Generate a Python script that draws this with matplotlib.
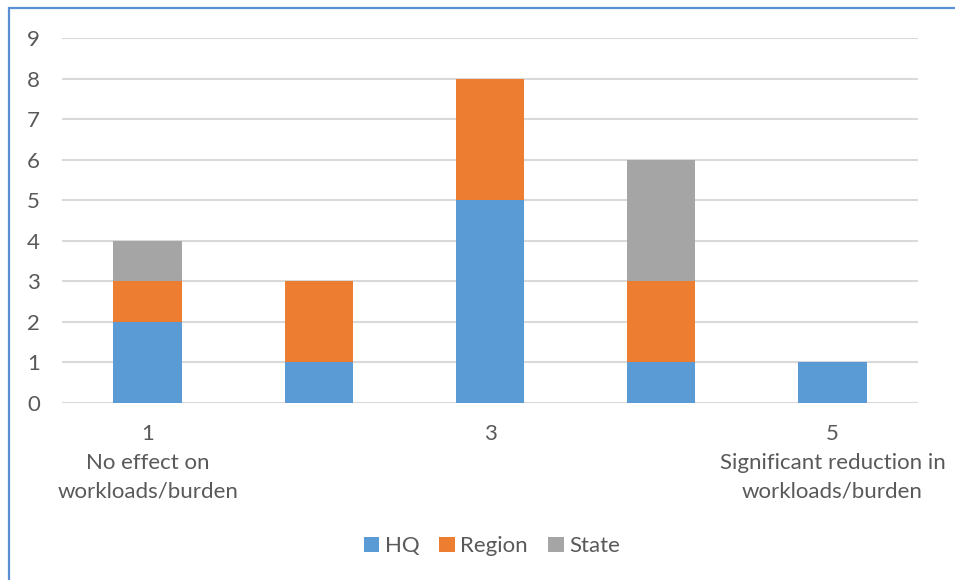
#!/usr/bin/env python3

import matplotlib
matplotlib.use('Agg')
import matplotlib.pyplot as plt
from matplotlib.patches import Rectangle
import numpy as np

# Survey responses by scale point
scale = [1, 2, 3, 4, 5]
tick_labels = ['1\nNo effect on\nworkloads/burden', '', '3', '',
               '5\nSignificant reduction in\nworkloads/burden']
hq = [2, 1, 5, 1, 1]
region = [1, 2, 3, 2, 0]
state = [1, 0, 0, 3, 0]

plt.rcParams['font.family'] = ['Lato', 'DejaVu Sans']
txt = '#595959'

fig = plt.figure(figsize=(9.55, 5.8), dpi=100)
ax = fig.add_axes([0.0649, 0.3052, 0.8964, 0.6293])

x = np.arange(len(scale))
w = 0.4
ax.bar(x, hq, w, color='#5B9BD5', label='HQ', zorder=3)
ax.bar(x, region, w, bottom=hq, color='#ED7D31', label='Region', zorder=3)
ax.bar(x, state, w, bottom=np.add(hq, region), color='#A5A5A5',
       label='State', zorder=3)

ax.set_xlim(-0.5, 4.5)
ax.set_ylim(0, 9)
ax.set_yticks(range(10))
ax.set_xticks(x)
ax.set_xticklabels(tick_labels, linespacing=1.55)
ax.tick_params(axis='both', length=0, labelsize=16, labelcolor=txt)
ax.tick_params(axis='y', pad=16)
ax.tick_params(axis='x', pad=15)

ax.grid(axis='y', color='#D9D9D9', linewidth=1.5, zorder=0)
for s in ax.spines.values():
    s.set_visible(False)

leg = fig.legend(loc='center', bbox_to_anchor=(0.515, 0.058), ncol=3,
                 frameon=False, fontsize=16, handlelength=0.7,
                 handleheight=0.7, handletextpad=0.25, columnspacing=0.9)
for t in leg.get_texts():
    t.set_color(txt)

# chart border
fig.patches.append(Rectangle((9 / 955, -0.1), 1.2, 0.1 + 1 - 8 / 580,
                             transform=fig.transFigure, fill=False,
                             edgecolor='#5B8FD3', linewidth=1.6))

plt.savefig('out.png', dpi=100)
